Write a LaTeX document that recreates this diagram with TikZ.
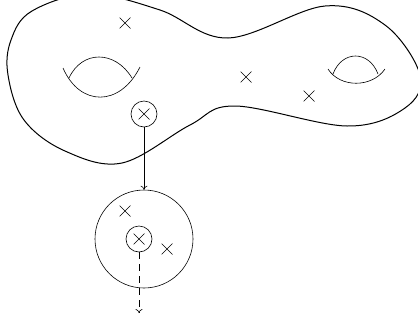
\documentclass[tikz,border=0pt]{standalone}
\usetikzlibrary{arrows.meta}
\begin{document}
\begin{tikzpicture}[x=1pt,y=-1pt,line width=0.8pt,
  cross/.style={draw=none,inner sep=0pt,minimum size=11pt,
    path picture={\draw[line width=0.6pt] (path picture bounding box.north west) -- (path picture bounding box.south east)
      (path picture bounding box.north east) -- (path picture bounding box.south west);}},
  ring/.style={circle,draw,line width=0.6pt,inner sep=0pt,minimum size=26pt},
  handle/.style={line width=0.6pt},
  arr/.style={-{To[length=4pt,width=7pt]},line width=0.6pt}]
\useasboundingbox (0,0) rectangle (418,322);
\clip (0,0) rectangle (418,322);
% surface
\draw[line width=1pt] plot[smooth cycle, tension=0.6] coordinates {(90,-6) (32,11) (11,40) (8,75) (24,120) (65,151) (122,163) (190,125) (235,106) (347,126) (405,108) (420,75) (385,25) (325,6) (228,38) (160,10)};
% handles
\draw[handle] (63,68) .. controls (80,107) and (120,107) .. (140,67);
\draw[handle] (69,78) .. controls (82,50) and (115,50) .. (132,78);
\draw[handle] (328,69) .. controls (340,88) and (372,88) .. (385,69);
\draw[handle] (333,74) .. controls (342,50) and (369,50) .. (378,74);
% marked points
\node[cross] (p1) at (125,23) {};
\node[cross] (p2) at (246,77) {};
\node[cross] (p3) at (309,96) {};
\node[ring] (q) at (144,114) {};
\node[cross] (qx) at (144,114) {};
% disk
\node[circle,draw,line width=0.6pt,minimum size=98pt,inner sep=0pt] (d) at (144,239) {};
\node[cross] (d1) at (125,211) {};
\node[cross] (d2) at (167,249) {};
\node[ring] (r) at (139,239) {};
\node[cross] (rx) at (139,239) {};
\coordinate (e) at (139,313);
\draw[arr] (q.south) -- (d.north);
\draw[arr,dashed,dash pattern=on 7pt off 5pt] (r.south) -- (e);
\end{tikzpicture}
\end{document}
